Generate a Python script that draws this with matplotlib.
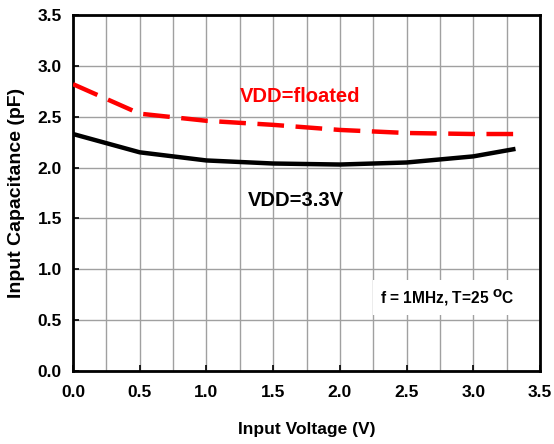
import matplotlib
matplotlib.use("Agg")
import matplotlib.pyplot as plt
from matplotlib.ticker import MultipleLocator

plt.rcParams['font.family'] = ['Liberation Sans', 'DejaVu Sans']

voltage = [0.0, 0.5, 1.0, 1.5, 2.0, 2.5, 3.0, 3.3]
cap_vdd33 = [2.33, 2.15, 2.07, 2.04, 2.03, 2.05, 2.11, 2.18]
cap_floated = [2.82, 2.53, 2.46, 2.42, 2.37, 2.34, 2.33, 2.33]
xticks = [0.0, 0.5, 1.0, 1.5, 2.0, 2.5, 3.0, 3.5]
yticks = [0.0, 0.5, 1.0, 1.5, 2.0, 2.5, 3.0, 3.5]

fig = plt.figure(figsize=(5.54, 4.44), dpi=100)
ax = fig.add_axes([0.1318, 0.1644, 0.9747 - 0.1318, 0.9662 - 0.1644])

ax.set_xlim(0, 3.5)
ax.set_ylim(0, 3.5)
ax.xaxis.set_minor_locator(MultipleLocator(0.25))
ax.set_xticks(xticks)
ax.set_yticks(yticks)
ax.set_xticklabels([f"{v:.1f}" for v in xticks], fontsize=12.5, fontweight='bold')
ax.set_yticklabels([f"{v:.1f}" for v in yticks], fontsize=12.5, fontweight='bold')
ax.grid(True, which='both', axis='x', color='#a0a0a0', lw=1.0)
ax.grid(True, which='major', axis='y', color='#a0a0a0', lw=1.0)
ax.tick_params(which='major', direction='in', length=4, width=1.2)
ax.tick_params(axis='x', which='major', pad=10)
ax.tick_params(axis='y', which='major', pad=8)
ax.tick_params(which='minor', length=0)
for s in ax.spines.values():
    s.set_linewidth(2)
ax.set_axisbelow(True)

ax.plot(voltage, cap_floated, color='#ff0000', lw=3.2, dashes=(6, 2.6), zorder=3)
ax.plot(voltage, cap_vdd33, color='black', lw=3.2, zorder=3)

ax.text(1.25, 2.70, "VDD=floated", color='#ff0000', fontsize=14.5, fontweight='bold', va='center')
ax.text(1.31, 1.68, "VDD=3.3V", color='black', fontsize=14.5, fontweight='bold', va='center')
ax.text(2.30, 0.72, r"f = 1MHz, T=25 $^{\mathbf{O}}$C", fontsize=11.2, fontweight='bold',
        va='center', bbox=dict(facecolor='white', edgecolor='none', pad=5), zorder=4)

ax.set_xlabel("Input Voltage (V)", fontsize=12.5, fontweight='bold', labelpad=16)
ax.set_ylabel("Input Capacitance (pF)", fontsize=14, fontweight='bold', labelpad=9)

fig.savefig("out.png", dpi=100)
